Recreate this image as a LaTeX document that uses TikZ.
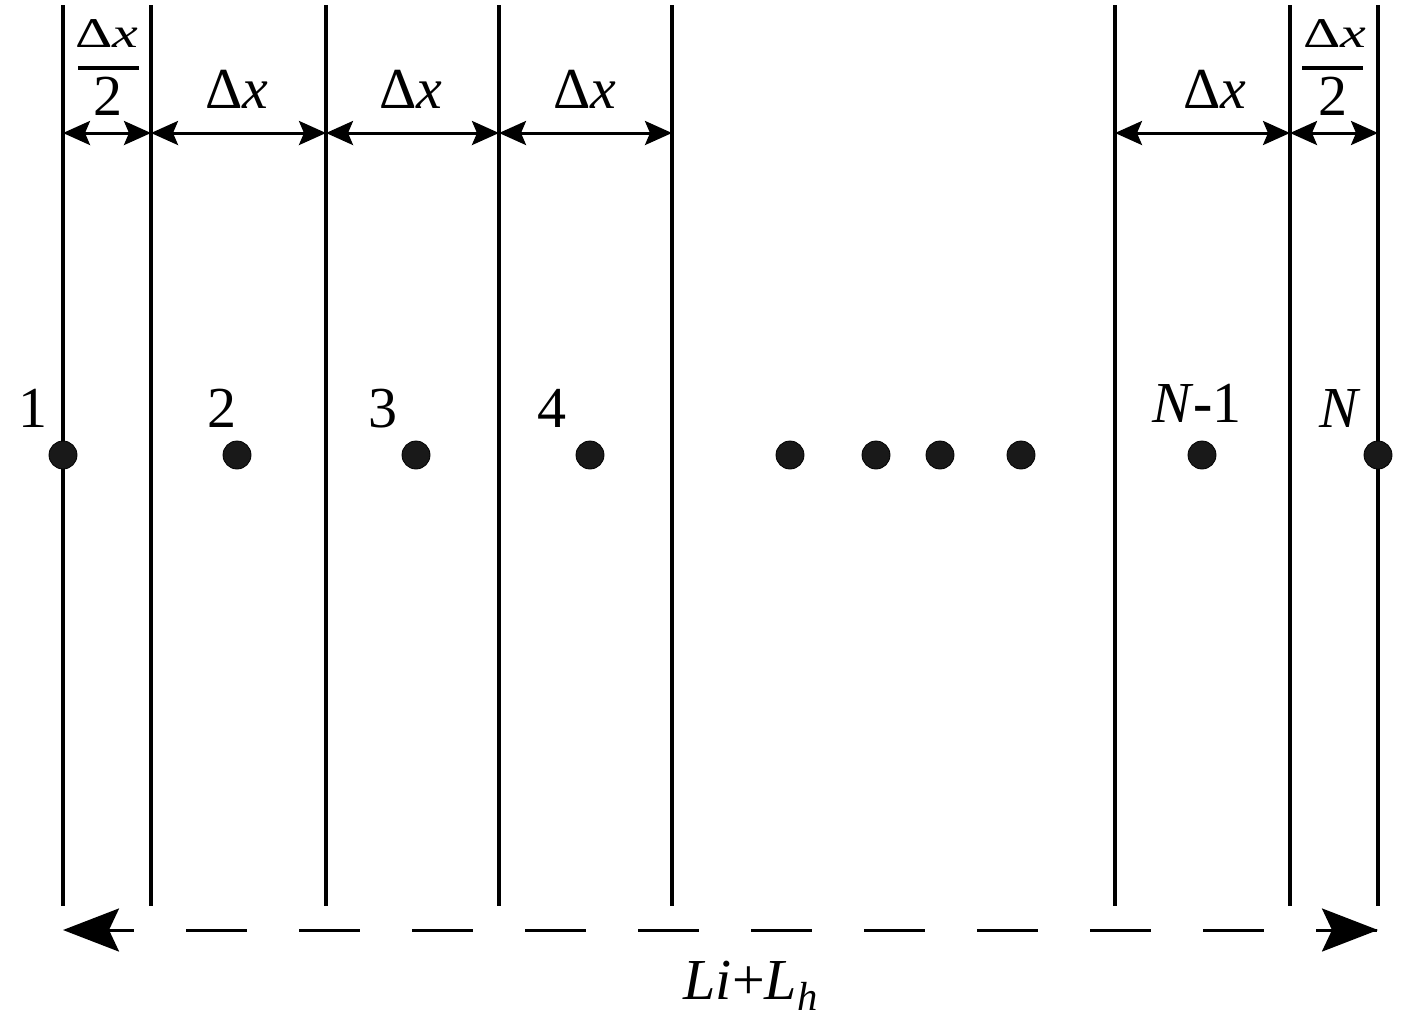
\documentclass[tikz,border=0pt]{standalone}
\usepackage{fontspec}
\setmainfont{Liberation Serif}
\usetikzlibrary{arrows.meta,calc}
\begin{document}
\begin{tikzpicture}[x=0.5pt,y=-0.5pt,
  wall/.style={line width=1.6pt},
  dim/.style={line width=1.5pt,{Stealth[length=13.5pt,width=12pt,inset=2.5pt]}-{Stealth[length=13.5pt,width=12pt,inset=2.5pt]}},
  bigarrow/.style={line width=1.5pt,-{Stealth[length=28pt,width=21.5pt,inset=5pt]}},
  lbl/.style={font=\fontsize{29}{32}\selectfont, inner sep=0pt, anchor=base},
  numer/.style={font=\fontsize{29}{32}\selectfont, inner sep=0pt, anchor=base},
  pt/.style={circle, fill=black!90, draw=black, minimum size=14pt, inner sep=0pt},
  bar/.style={line width=1.6pt},
]
\useasboundingbox (0,0) rectangle (1417,1018);
% walls
\foreach \n/\x in {a/63,b/151,c/326,d/499,e/672,f/1115,g/1290,h/1378} {
  \coordinate (\n t) at (\x,5);
  \coordinate (\n m) at (\x,133);
  \coordinate (\n b) at (\x,906);
  \draw[wall] (\n t) -- (\n b);
}
% dimension arrows
\draw[dim] (am) -- (bm);
\draw[dim] (bm) -- (cm);
\draw[dim] (cm) -- (dm);
\draw[dim] (dm) -- (em);
\draw[dim] (fm) -- (gm);
\draw[dim] (gm) -- (hm);
% dimension labels
\node[lbl] (dx1) at (237,108) {Δ\textit{x}};
\node[lbl] (dx2) at (411,108) {Δ\textit{x}};
\node[lbl] (dx3) at (585,108) {Δ\textit{x}};
\node[lbl] (dx4) at (1215,108) {Δ\textit{x}};
% half fractions
\node[numer] (fn1) at (107,47) {\scalebox{1}[0.73]{Δ\textit{x}}};
\coordinate (fb1l) at (78,68);
\coordinate (fb1r) at (139,68);
\draw[bar] (fb1l) -- (fb1r);
\node[lbl] (fd1) at (108,115) {2};
\node[numer] (fn2) at (1335,47) {\scalebox{1}[0.73]{Δ\textit{x}}};
\coordinate (fb2l) at (1302,68);
\coordinate (fb2r) at (1363,68);
\draw[bar] (fb2l) -- (fb2r);
\node[lbl] (fd2) at (1333,115) {2};
% points
\foreach \i/\x in {1/63,2/237,3/416,4/590,5/790,6/876,7/940,8/1021,9/1202,10/1378} {
  \node[pt] (p\i) at (\x,455) {};
}
% point labels
\node[lbl] (l1) at (33,427) {1};
\node[lbl] (l2) at (222,427) {2};
\node[lbl] (l3) at (383,427) {3};
\node[lbl] (l4) at (552,427) {4};
\node[lbl] (lN1) at (1197,422) {\textit{N}{\bfseries -}1};
\node[lbl] (lN) at (1340,427) {\textit{N}};
% total length
\coordinate (la) at (63,930);
\coordinate (ra) at (1378,930);
\draw[line width=1.5pt, dash pattern=on 30.5pt off 26pt, dash phase=51.5pt] (la) -- (ra);
\draw[bigarrow] ($(la)+(45,0)$) -- (la);
\draw[bigarrow] ($(ra)-(45,0)$) -- (ra);
\node[lbl] (tot) at (751,999) {\textit{Li}+\textit{L}\textsubscript{\textit{h}}};
\end{tikzpicture}
\end{document}
